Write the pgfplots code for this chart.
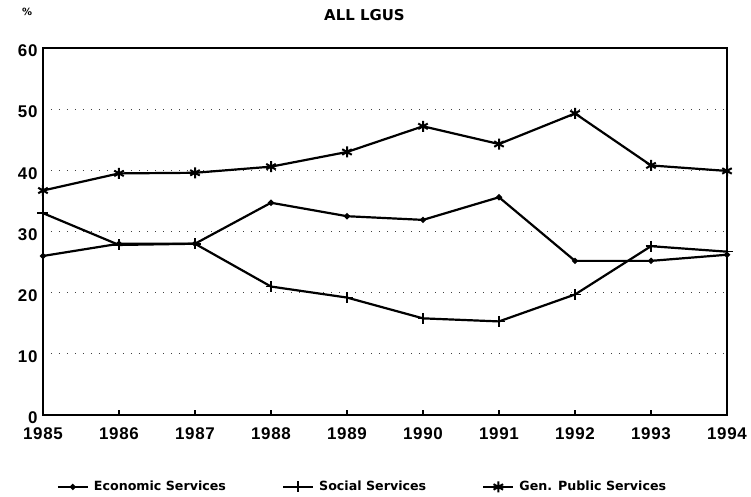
\documentclass[border=0pt]{standalone}
\usepackage{fontspec}
\setmainfont{DejaVu Sans}
\newfontfamily\tickfont[LetterSpace=4]{Liberation Sans}
\usepackage{pgfplots}
\pgfplotsset{compat=1.18}

\begin{document}
\begin{tikzpicture}
\useasboundingbox (-43bp,-82bp) rectangle (708bp,415bp);
\begin{axis}[
  at={(0,0)}, anchor=south west,
  scale only axis, width=684bp, height=367bp,
  xmin=1985, xmax=1994, ymin=0, ymax=60,
  xtick={1985,...,1994}, ytick={0,10,...,60},
  /pgf/number format/1000 sep={},
  /pgf/number format/assume math mode=true,
  tick label style={font=\tickfont\fontsize{17}{19}\selectfont\bfseries},
  xtick pos=bottom, ytick pos=left,
  xtick style={line width=1.8bp, black}, ytick style={draw=none},
  major tick length=5bp, tick align=inside,
  yticklabel style={xshift=-2bp, yshift=-3bp},
  xticklabel style={yshift=-9bp},
  axis line style={line width=2bp},
  ymajorgrids, grid style={black!75, line width=0.9bp, dash pattern=on 1bp off 7bp},
  legend columns=3,
  legend style={at={(0.467,-0.196)}, anchor=center, draw=none, fill=none,
    font=\fontsize{12.7}{14}\selectfont\bfseries,
    /tikz/every even column/.append style={column sep=54bp}},
  legend image code/.code={\draw[mark repeat=2, mark phase=2]
    plot coordinates {(0bp,0bp) (15bp,0bp) (30bp,0bp)};
    \path (33bp,0bp);},
  clip=false,
]
\addplot[line width=2.2bp, black, mark=*, mark size=1.8bp]
  coordinates {(1985,26.0) (1986,28.0) (1987,28.0) (1988,34.7) (1989,32.5)
    (1990,31.9) (1991,35.6) (1992,25.2) (1993,25.2) (1994,26.2)};
\addlegendentry{Economic Services}
\addplot[line width=2.2bp, black, mark=+, mark size=5.5bp, mark options={line width=1.6bp}]
  coordinates {(1985,33.0) (1986,27.8) (1987,28.0) (1988,21.0) (1989,19.2)
    (1990,15.8) (1991,15.3) (1992,19.7) (1993,27.6) (1994,26.7)};
\addlegendentry{Social Services}
\addplot[line width=2.2bp, black, mark=asterisk, mark size=5.5bp, mark options={line width=2bp}]
  coordinates {(1985,36.7) (1986,39.5) (1987,39.6) (1988,40.6) (1989,43.0)
    (1990,47.2) (1991,44.3) (1992,49.3) (1993,40.8) (1994,39.9)};
\addlegendentry{Gen. Public Services}
\node[font=\fontsize{15}{17}\selectfont\bfseries] at (rel axis cs:0.47,1) [yshift=33bp] {ALL LGUS};
\node[font=\fontsize{10}{11}\selectfont\bfseries] at (rel axis cs:0,1) [xshift=-16bp, yshift=36bp] {\%};
\end{axis}
\end{tikzpicture}
\end{document}
